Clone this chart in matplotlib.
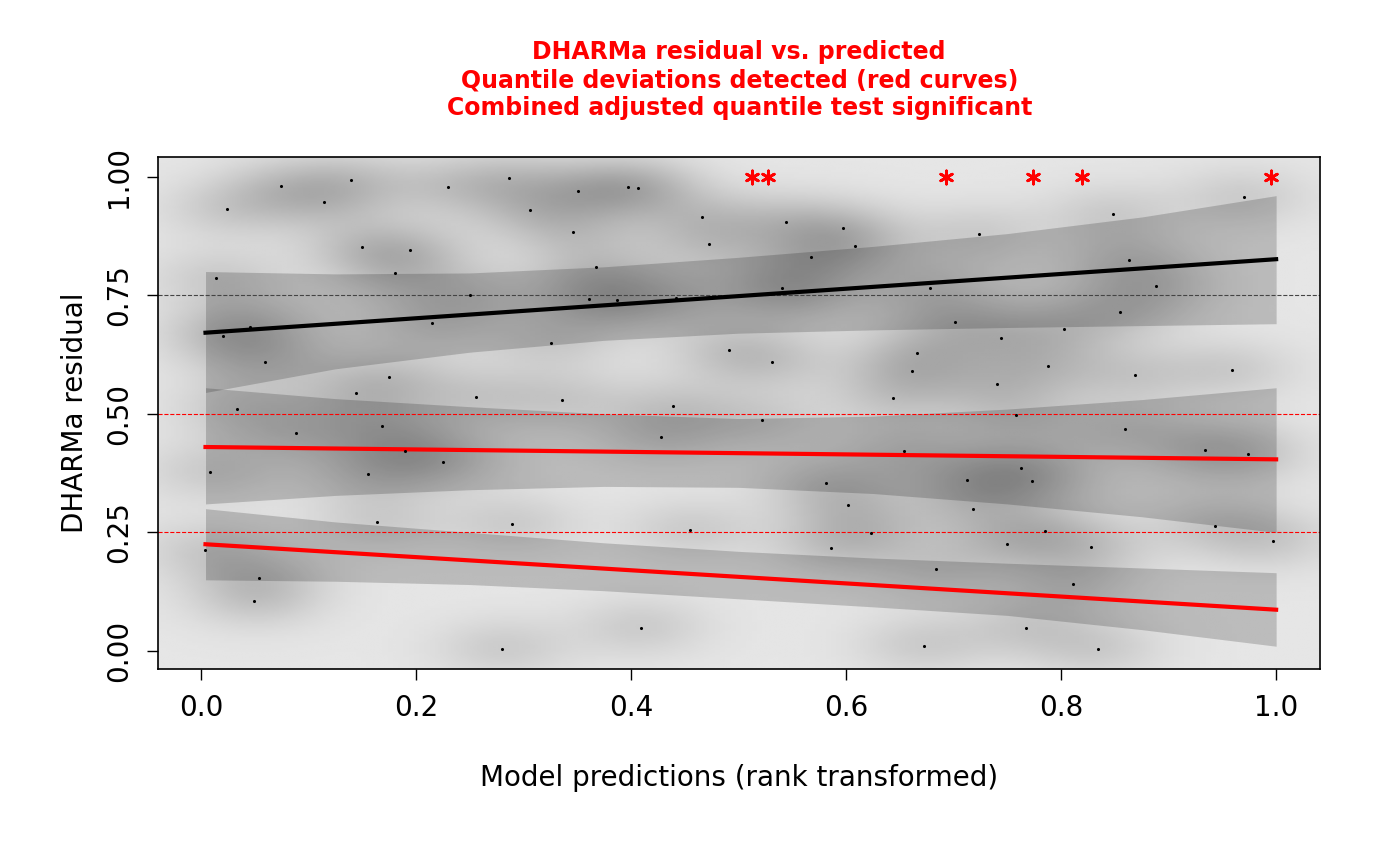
import matplotlib.pyplot as plt
import numpy as np

# residual points (rank-transformed prediction, scaled residual)
pred = [0.004,0.008,0.014,0.020,0.024,0.033,0.045,0.049,0.054,0.059,0.074,0.088,0.114,0.139,0.144,0.150,0.155,0.164,0.168,0.175,
        0.180,0.190,0.194,0.215,0.225,0.230,0.250,0.256,0.280,0.286,0.289,0.306,0.325,0.336,0.346,0.351,0.361,0.367,0.387,0.397,
        0.406,0.409,0.428,0.439,0.442,0.455,0.466,0.472,0.491,0.522,0.531,0.540,0.544,0.553,0.567,0.581,0.586,0.597,0.602,0.608,
        0.623,0.644,0.654,0.661,0.666,0.672,0.678,0.684,0.701,0.712,0.718,0.724,0.740,0.744,0.750,0.758,0.763,0.767,0.773,0.785,
        0.788,0.803,0.811,0.828,0.834,0.848,0.855,0.859,0.863,0.869,0.888,0.934,0.943,0.959,0.970,0.974,0.997]
resid = [0.213,0.378,0.787,0.665,0.932,0.511,0.684,0.105,0.154,0.610,0.981,0.460,0.947,0.994,0.544,0.852,0.373,0.272,0.475,0.578,
         0.797,0.422,0.846,0.692,0.399,0.979,0.751,0.536,0.004,0.998,0.268,0.930,0.650,0.530,0.884,0.970,0.743,0.810,0.741,0.979,
         0.977,0.049,0.451,0.517,0.745,0.255,0.914,0.857,0.635,0.487,0.610,0.766,0.905,0.759,0.831,0.354,0.217,0.892,0.308,0.854,
         0.249,0.534,0.422,0.591,0.629,0.011,0.766,0.173,0.694,0.361,0.300,0.880,0.563,0.660,0.226,0.498,0.386,0.049,0.359,0.253,
         0.601,0.679,0.141,0.219,0.004,0.922,0.715,0.468,0.825,0.582,0.770,0.424,0.264,0.593,0.958,0.416,0.232]
outlier_x = [0.512,0.527,0.693,0.774,0.819,0.995]

# quantile regression lines (ends) and their confidence bands
q_x = [0.004, 1.0]
q75 = [0.671, 0.826]
q50 = [0.430, 0.404]
q25 = [0.225, 0.087]
band_x = [0.004, 0.125, 0.25, 0.375, 0.5, 0.625, 0.75, 0.875, 1.0]
b75_lo = [0.545, 0.595, 0.63, 0.655, 0.67, 0.677, 0.682, 0.686, 0.69]
b75_hi = [0.80, 0.795, 0.797, 0.81, 0.83, 0.853, 0.88, 0.915, 0.96]
b50_lo = [0.31, 0.328, 0.34, 0.347, 0.345, 0.332, 0.31, 0.283, 0.25]
b50_hi = [0.555, 0.532, 0.515, 0.50, 0.49, 0.495, 0.51, 0.53, 0.555]
b25_lo = [0.15, 0.147, 0.14, 0.127, 0.11, 0.093, 0.075, 0.045, 0.01]
b25_hi = [0.30, 0.272, 0.25, 0.228, 0.21, 0.196, 0.185, 0.175, 0.165]

fig = plt.figure(figsize=(14, 8.66), dpi=100)
ax = fig.add_axes([0.113, 0.2275, 0.83, 0.5915])

# smoothed density background
gx, gy = np.meshgrid(np.linspace(-0.04, 1.04, 220), np.linspace(-0.04, 1.04, 220))
dens = np.zeros_like(gx)
for a, b in zip(pred, resid):
    dens += np.exp(-((gx - a)**2 + (gy - b)**2) / (2 * 0.045**2))
shade = 0.9 - 0.3 * dens / dens.max()
ax.imshow(shade, extent=[-0.04, 1.04, -0.04, 1.04], origin='lower', cmap='gray',
          vmin=0, vmax=1, aspect='auto', interpolation='bilinear')

xs = np.linspace(0.004, 1.0, 200)
for lo, hi in [(b75_lo, b75_hi), (b50_lo, b50_hi), (b25_lo, b25_hi)]:
    ax.fill_between(xs, np.interp(xs, band_x, lo), np.interp(xs, band_x, hi), color='black', alpha=0.18, lw=0)

ax.axhline(0.75, color='#444444', ls='--', lw=0.8)
ax.axhline(0.5, color='red', ls='--', lw=0.8)
ax.axhline(0.25, color='red', ls='--', lw=0.8)

ax.plot(q_x, q75, color='black', lw=3)
ax.plot(q_x, q50, color='red', lw=3)
ax.plot(q_x, q25, color='red', lw=3)

ax.scatter(pred, resid, s=1.5, color='black', zorder=5)
ax.scatter(outlier_x, [1.0] * len(outlier_x), marker=(6, 2, 0), s=90, color='red', linewidths=2, zorder=6)

ax.set_xlim(-0.04, 1.041)
ax.set_ylim(-0.038, 1.042)
ax.set_xticks([0, 0.2, 0.4, 0.6, 0.8, 1.0])
ax.set_xticklabels(['0.0', '0.2', '0.4', '0.6', '0.8', '1.0'])
ax.set_yticks([0, 0.25, 0.5, 0.75, 1.0])
ax.set_yticklabels(['0.00', '0.25', '0.50', '0.75', '1.00'], rotation=90, va='center')
ax.tick_params(labelsize=20, length=8, width=1, pad=10)
for s in ax.spines.values():
    s.set_linewidth(1.2)
ax.set_xlabel('Model predictions (rank transformed)', fontsize=20, labelpad=30)
ax.set_ylabel('DHARMa residual', fontsize=20, labelpad=12)
ax.set_title('DHARMa residual vs. predicted\nQuantile deviations detected (red curves)\nCombined adjusted quantile test significant',
             color='red', fontsize=17, fontweight='bold', pad=30, linespacing=1.2)

plt.savefig('out.png')
